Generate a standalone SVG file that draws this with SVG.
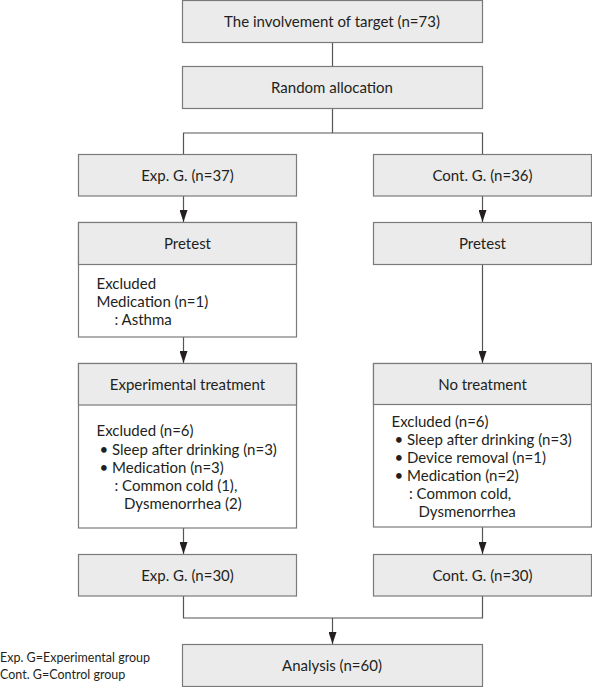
<svg xmlns="http://www.w3.org/2000/svg" width="592" height="687" viewBox="0 0 592 687">
<style>
  .box{fill:#ebebeb;stroke:#7a7a7a;stroke-width:1.2}
  .wbox{fill:#ffffff;stroke:#7a7a7a;stroke-width:1.2}
  .t{font-family:Lato,"Noto Sans",sans-serif;font-size:15px;fill:#231f20}
  .c{text-anchor:middle}
  .lg{font-family:Lato,"Noto Sans",sans-serif;font-size:12.5px;fill:#231f20}
  .ln{fill:none;stroke:#555;stroke-width:1.2}
</style>
<defs>
  <marker id="ah" markerWidth="12" markerHeight="8" refX="12" refY="4" orient="auto" markerUnits="userSpaceOnUse" viewBox="0 0 12 8">
    <path d="M0,0 L12,4 L0,8 Z" fill="#231f20"/>
  </marker>
</defs>
<g id="connectors">
  <line class="ln" x1="332.5" y1="42" x2="332.5" y2="66"/>
  <path class="ln" d="M332.5,108 V133 M183.5,154 V133 H482.5 V154"/>
  <line class="ln" x1="183.5" y1="196" x2="183.5" y2="222" marker-end="url(#ah)"/>
  <line class="ln" x1="482.5" y1="196" x2="482.5" y2="222" marker-end="url(#ah)"/>
  <line class="ln" x1="183.5" y1="337" x2="183.5" y2="363" marker-end="url(#ah)"/>
  <line class="ln" x1="482.5" y1="264" x2="482.5" y2="363" marker-end="url(#ah)"/>
  <line class="ln" x1="183.5" y1="528" x2="183.5" y2="554" marker-end="url(#ah)"/>
  <line class="ln" x1="482.5" y1="527" x2="482.5" y2="554" marker-end="url(#ah)"/>
  <path class="ln" d="M183.5,596 V618 H482.5 V596"/>
  <line class="ln" x1="332.5" y1="618" x2="332.5" y2="644" marker-end="url(#ah)"/>
</g>
<g id="target">
  <rect class="box" x="182.5" y="0.5" width="300" height="42"/>
  <text class="t c" x="332" y="26.5">The involvement of target (n=73)</text>
</g>
<g id="random">
  <rect class="box" x="182.5" y="66.5" width="300" height="42"/>
  <text class="t c" x="332" y="92.5">Random allocation</text>
</g>
<g id="expG37">
  <rect class="box" x="78.5" y="154.5" width="218" height="41.5"/>
  <text class="t c" x="187.5" y="180.5">Exp. G. (n=37)</text>
</g>
<g id="contG36">
  <rect class="box" x="373.5" y="154.5" width="218" height="41.5"/>
  <text class="t c" x="482.5" y="180.5">Cont. G. (n=36)</text>
</g>
<g id="pretestL">
  <rect class="wbox" x="78.5" y="222.5" width="218" height="114.5"/>
  <rect class="box" x="78.5" y="222.5" width="218" height="42"/>
  <text class="t c" x="187.5" y="248.5">Pretest</text>
  <text class="t" x="96.5" y="288.5">Excluded</text>
  <text class="t" x="96.5" y="306.5">Medication (n=1)</text>
  <text class="t" x="114.5" y="324.5">: Asthma</text>
</g>
<g id="pretestR">
  <rect class="box" x="373.5" y="222.5" width="218" height="42"/>
  <text class="t c" x="482.5" y="248.5">Pretest</text>
</g>
<g id="expTreat">
  <rect class="wbox" x="78.5" y="363.5" width="218" height="164.5"/>
  <rect class="box" x="78.5" y="363.5" width="218" height="41.5"/>
  <text class="t c" x="187.5" y="389.5">Experimental treatment</text>
  <text class="t" x="96.5" y="436">Excluded (n=6)</text>
  <text class="t" x="99.5" y="454.5">• Sleep after drinking (n=3)</text>
  <text class="t" x="99.5" y="472.5">• Medication (n=3)</text>
  <text class="t" x="114.5" y="490.5">: Common cold (1),</text>
  <text class="t" x="124" y="508.5">Dysmenorrhea (2)</text>
</g>
<g id="noTreat">
  <rect class="wbox" x="373.5" y="363.5" width="218" height="163.5"/>
  <rect class="box" x="373.5" y="363.5" width="218" height="41"/>
  <text class="t c" x="482.5" y="389.5">No treatment</text>
  <text class="t" x="391.5" y="427">Excluded (n=6)</text>
  <text class="t" x="394.5" y="445">• Sleep after drinking (n=3)</text>
  <text class="t" x="394.5" y="463">• Device removal (n=1)</text>
  <text class="t" x="394.5" y="481">• Medication (n=2)</text>
  <text class="t" x="409" y="499">: Common cold,</text>
  <text class="t" x="418.5" y="517">Dysmenorrhea</text>
</g>
<g id="expG30">
  <rect class="box" x="78.5" y="554.5" width="218" height="41.5"/>
  <text class="t c" x="187.5" y="580.5">Exp. G. (n=30)</text>
</g>
<g id="contG30">
  <rect class="box" x="373.5" y="554.5" width="218" height="41.5"/>
  <text class="t c" x="482.5" y="580.5">Cont. G. (n=30)</text>
</g>
<g id="analysis">
  <rect class="box" x="182.5" y="644.5" width="300" height="42"/>
  <text class="t c" x="332" y="670.5">Analysis (n=60)</text>
</g>
<g id="legend">
  <text class="lg" x="0" y="661.5">Exp. G=Experimental group</text>
  <text class="lg" x="0" y="678.5">Cont. G=Control group</text>
</g>
</svg>
